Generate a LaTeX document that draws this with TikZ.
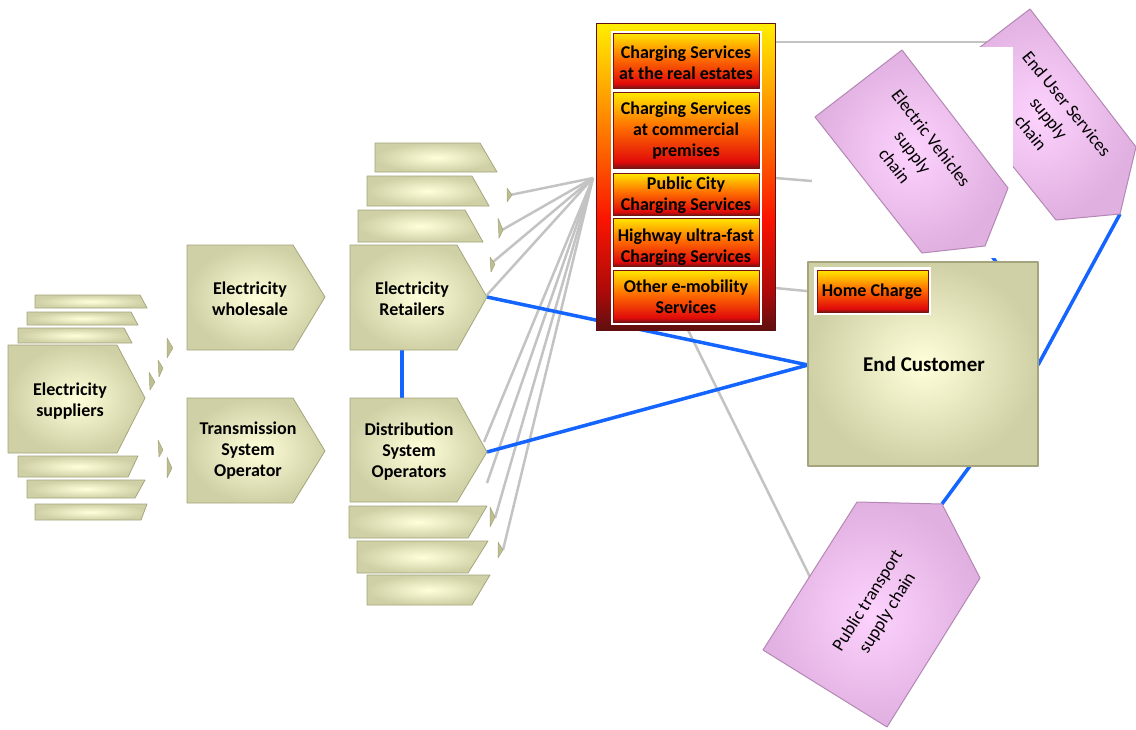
\documentclass[tikz,border=0pt]{standalone}
\usepackage{fontspec}
\setmainfont{Carlito}
\definecolor{kIn}{RGB}{255,255,218}
\definecolor{kOut}{RGB}{208,208,166}
\definecolor{kEdge}{RGB}{165,165,125}
\definecolor{kTip}{RGB}{190,190,145}
\definecolor{pIn}{RGB}{253,210,253}
\definecolor{pOut}{RGB}{224,176,224}
\definecolor{pEdge}{RGB}{180,135,180}
\definecolor{lblue}{RGB}{20,100,255}
\definecolor{lgray}{RGB}{195,195,195}
\definecolor{pyel}{RGB}{255,238,0}
\definecolor{porg}{RGB}{255,140,0}
\definecolor{pred}{RGB}{250,20,0}
\definecolor{pdred}{RGB}{170,10,10}
\definecolor{pdark}{RGB}{95,15,15}
\definecolor{byel}{RGB}{255,232,0}
\definecolor{borg}{RGB}{255,110,0}
\definecolor{bred}{RGB}{225,10,10}
\definecolor{bdark}{RGB}{120,20,20}
\pgfdeclareverticalshading{panelshade}{100bp}{color(0bp)=(pdark); color(25bp)=(pdark); color(31bp)=(pdred); color(43bp)=(pred); color(60bp)=(porg); color(75bp)=(pyel); color(100bp)=(pyel)}
\pgfdeclareverticalshading{boxshade}{100bp}{color(0bp)=(bdark); color(25bp)=(bdark); color(29bp)=(bred); color(52bp)=(borg); color(75bp)=(byel); color(100bp)=(byel)}
\begin{document}
\begin{tikzpicture}[x=1pt,y=-1pt,line join=round,
  khaki/.style={inner color=kIn,outer color=kOut,draw=kEdge,line width=0.8pt},
  ktip/.style={fill=kTip,draw=kEdge,line width=0.5pt},
  purp/.style={inner color=pIn,outer color=pOut,draw=pEdge,line width=1pt},
  bluecon/.style={draw=lblue,line width=3.5pt},
  graycon/.style={draw=lgray,line width=2.5pt},
  gbox/.style={shade,shading=boxshade,draw=bdark,line width=0.6pt},
  lbl/.style={font=\fontsize{18}{21}\selectfont\bfseries,align=center,text=black,inner sep=0pt},
  plbl/.style={font=\fontsize{18}{23}\selectfont,align=center,text=black,inner sep=0pt}]
\useasboundingbox (0,0) rectangle (1136,729);

% ---------- connector end points ----------
\coordinate (F) at (593,178);
\coordinate (rb1) at (510,195);
\coordinate (rb2) at (502,230);
\coordinate (rb3) at (493,262);
\coordinate (rtipg) at (487,295);
\coordinate (dg1) at (484,442);
\coordinate (dg2) at (487,483);
\coordinate (dg3) at (495,518);
\coordinate (dg4) at (503,550);
\coordinate (b1R) at (762,42);
\coordinate (eusEdge) at (987,42);
\coordinate (panR1) at (775,178);
\coordinate (cut1) at (812,181);
\coordinate (panR2) at (775,288);
\coordinate (hcL) at (817,292);
\coordinate (panB) at (688,330);
\coordinate (ptL) at (810,577);
\coordinate (retTip) at (487,297);
\coordinate (dsoTip) at (487,452);
\coordinate (retB) at (402,350);
\coordinate (dsoT) at (402,398);
\coordinate (ecL) at (808,365);
\coordinate (ecR) at (1038,365);
\coordinate (ecT) at (996,262);
\coordinate (ecB) at (970,466);
\coordinate (evTip) at (985,246);
\coordinate (eusTip) at (1120,214);
\coordinate (ptTip) at (942,504);

% ---------- gray connectors ----------
\foreach \t in {rb1,rb2,rb3,rtipg,dg1,dg2,dg3,dg4} \draw[graycon] (F) -- (\t);
\draw[graycon] (b1R) -- (eusEdge);
\draw[graycon] (panR1) -- (cut1);
\draw[graycon] (panR2) -- (hcL);
\draw[graycon] (panB) -- (ptL);

% ---------- blue connectors ----------
\draw[bluecon] (retTip) -- (ecL);
\draw[bluecon] (dsoTip) -- (ecL);
\draw[bluecon] (retB) -- (dsoT);
\draw[bluecon] (ecR) -- (eusTip);
\draw[bluecon] (ecT) -- (evTip);
\draw[bluecon] (ecB) -- (ptTip);

% ---------- suppliers stack ----------
\path[khaki] (35,295) -- (140,295) -- (147,308) -- (35,308) -- cycle;
\path[khaki] (27,312) -- (131,312) -- (138,325) -- (27,325) -- cycle;
\path[khaki] (18,328) -- (124,328) -- (132,343) -- (18,343) -- cycle;
\path[khaki] (18,456) -- (138,456) -- (128,477) -- (18,477) -- cycle;
\path[khaki] (27,480) -- (145,480) -- (135,498) -- (27,498) -- cycle;
\path[khaki] (35,504) -- (147,504) -- (141,520) -- (35,520) -- cycle;
\path[ktip] (167,338) -- (173,348) -- (167,358) -- cycle;
\path[ktip] (158,360) -- (163,368) -- (159,377) -- cycle;
\path[ktip] (149,372) -- (155,382) -- (150,390) -- cycle;
\path[ktip] (158,440) -- (163,450) -- (159,457) -- cycle;
\path[ktip] (167,457) -- (172,468) -- (167,478) -- cycle;
\path[khaki] (8,345) -- (117,345) -- (145,398) -- (117,453) -- (8,453) -- cycle;
\node[lbl] (sup) at (70,401) {Electricity\\suppliers};

% ---------- wholesale / TSO ----------
\path[khaki] (187,245) -- (293,245) -- (325,297) -- (293,350) -- (187,350) -- cycle;
\node[lbl] (whs) at (250,299) {Electricity\\wholesale};
\path[khaki] (187,398) -- (293,398) -- (325,451) -- (293,503) -- (187,503) -- cycle;
\node[lbl] (tso) at (248,451) {Transmission\\System\\Operator};

% ---------- retailers stack ----------
\path[khaki] (375,143) -- (480,143) -- (497,172) -- (375,172) -- cycle;
\path[khaki] (367,176) -- (472,176) -- (489,206) -- (367,206) -- cycle;
\path[khaki] (358,210) -- (465,210) -- (483,242) -- (358,242) -- cycle;
\path[ktip] (507,188) -- (512,195) -- (507,202) -- cycle;
\path[ktip] (498,218) -- (503,230) -- (499,238) -- cycle;
\path[ktip] (490,257) -- (495,264) -- (491,272) -- cycle;
\path[khaki] (350,245) -- (457,245) -- (487,297) -- (457,350) -- (350,350) -- cycle;
\node[lbl] (ret) at (412,299) {Electricity\\Retailers};

% ---------- DSO stack ----------
\path[khaki] (367,575) -- (490,575) -- (472,605) -- (367,605) -- cycle;
\path[khaki] (357,541) -- (488,541) -- (468,573) -- (357,573) -- cycle;
\path[khaki] (349,506) -- (487,506) -- (468,538) -- (349,538) -- cycle;
\path[ktip] (490,507) -- (495,517) -- (490,527) -- cycle;
\path[ktip] (498,542) -- (503,550) -- (498,558) -- cycle;
\path[khaki] (350,398) -- (457,398) -- (487,452) -- (457,502) -- (350,502) -- cycle;
\node[lbl] (dso) at (409,452) {Distribution\\System\\Operators};

% ---------- charging services panel ----------
\path[shade,shading=panelshade,draw=pdark,line width=0.6pt] (596,23) rectangle (775,330);
\fill[white] (611,31) rectangle (762,325);
\path[gbox] (613,33) rectangle (759,88);
\path[gbox] (613,92) rectangle (759,168);
\path[gbox] (613,173) rectangle (759,215);
\path[gbox] (613,218) rectangle (759,266);
\path[gbox] (613,270) rectangle (759,322);
\node[lbl] (cs1) at (686,63) {Charging Services\\at the real estates};
\node[lbl] (cs2) at (686,131) {Charging Services\\at commercial\\premises};
\node[lbl] (cs3) at (686,195) {Public City\\Charging Services};
\node[lbl] (cs4) at (686,247) {Highway ultra-fast\\Charging Services};
\node[lbl] (cs5) at (686,297) {Other e-mobility\\Services};

% ---------- purple supply chains ----------
\path[purp] (941,77) -- (1030,9) -- (1136,147) -- (1120,214) -- (1056,220) -- cycle;
\node[plbl,rotate=-51] (eus) at (1049,118) {End User Services\\supply\\chain};
\fill[white] (812,47) rectangle (1013,258);
\path[purp] (815,117) -- (902,50) -- (1008,188) -- (985,246) -- (922,253) -- cycle;
\node[plbl,rotate=-52.5] (ev) at (913,152) {Electric Vehicles\\supply\\chain};
\path[purp] (857,502) -- (942,504) -- (980,578) -- (887,727) -- (763,650) -- cycle;
\node[plbl,rotate=58] (pt) at (878,607) {Public transport\\supply chain};

% ---------- end customer ----------
\path[khaki,line width=1.5pt] (808,262) rectangle (1038,466);
\node[font=\fontsize{21}{24}\selectfont\bfseries] (ec) at (924,364) {End Customer};
\fill[white] (814,267) rectangle (931,315);
\path[gbox] (817,270) rectangle (928,312);
\node[font=\fontsize{18}{20}\selectfont\bfseries] (hc) at (872,292) {Home Charge};
\end{tikzpicture}
\end{document}
